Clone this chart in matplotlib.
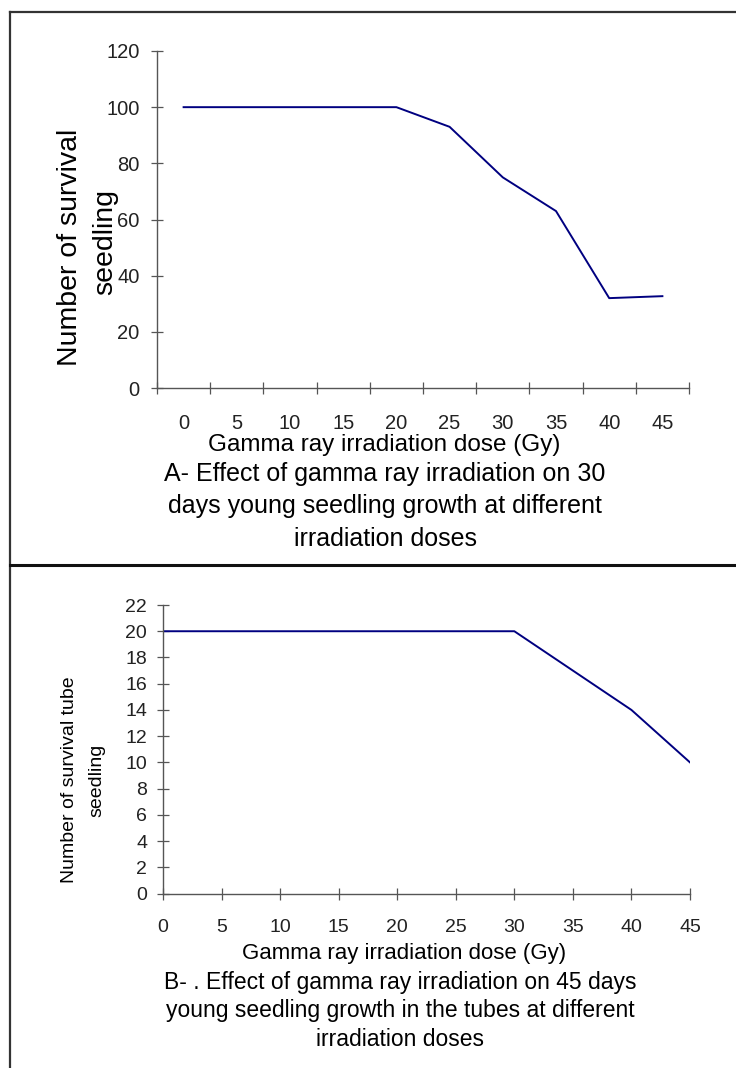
import matplotlib
matplotlib.use("Agg")
from matplotlib import pyplot as plt
from matplotlib.lines import Line2D

plt.rcParams['font.family'] = ['Liberation Sans', 'DejaVu Sans']

# seedlings after 30 days (panel A)
dose_a = [0, 5, 10, 15, 20, 25, 30, 35, 40, 45]
survival_a = [100, 100, 100, 100, 100, 93, 75, 63, 32, 32.7]
yticks_a = [0, 20, 40, 60, 80, 100, 120]

# tube seedlings after 45 days (panel B)
dose_b = [0, 5, 10, 15, 20, 25, 30, 35, 40, 45]
survival_b = [20, 20, 20, 20, 20, 20, 20, 17, 14, 10]
yticks_b = [0, 2, 4, 6, 8, 10, 12, 14, 16, 18, 20, 22]

W, H = 736, 1068
fig = plt.figure(figsize=(W / 100, H / 100), dpi=100)

def fx(px):
    return px / W

def fy(py):
    return 1 - py / H

# frame around the two panels
fig.add_artist(Line2D([fx(10), fx(10)], [fy(12), 0], color="#333333", lw=1.6, transform=fig.transFigure))
fig.add_artist(Line2D([fx(10), 1], [fy(12), fy(12)], color="#333333", lw=1.6, transform=fig.transFigure))
fig.add_artist(Line2D([fx(10), 1], [fy(565), fy(565)], color="#111111", lw=2.2, transform=fig.transFigure))

navy = "#000080"
axcol = "#555555"

def style(ax):
    for s in ["top", "right"]:
        ax.spines[s].set_visible(False)
    for s in ["left", "bottom"]:
        ax.spines[s].set_color(axcol)
        ax.spines[s].set_linewidth(1.0)
    ax.tick_params(which="major", direction="inout", length=9, width=0.9, color=axcol,
                   labelsize=14.5, labelcolor="#222222")

# ---- panel A: category style axis, points between ticks
axA = fig.add_axes([fx(157), fy(388), fx(689) - fx(157), fy(51) - fy(388)])
axA.plot(dose_a, survival_a, color=navy, lw=1.4)
axA.set_xlim(-2.5, 47.5)
axA.set_ylim(0, 120)
axA.set_yticks(yticks_a)
axA.set_xticks([d - 2.5 for d in dose_a] + [47.5])
axA.set_xticklabels([])
axA.set_xticks(dose_a, minor=True)
axA.set_xticklabels([str(d) for d in dose_a], minor=True)
style(axA)
axA.tick_params(axis="y", pad=8)
axA.tick_params(axis="x", which="minor", length=0, pad=19, labelsize=14.5, labelcolor="#222222")

fig.text(fx(70), fy(247), "Number of survival", rotation=90, ha="center", va="center", fontsize=20.5)
fig.text(fx(105), fy(242), "seedling", rotation=90, ha="center", va="center", fontsize=20.5)
fig.text(fx(384), fy(445), "Gamma ray irradiation dose (Gy)", ha="center", va="center", fontsize=17.5)
capA = ["A- Effect of gamma ray irradiation on 30",
        "days young seedling growth at different",
        "irradiation doses"]
for i, line in enumerate(capA):
    fig.text(fx(385), fy(474 + 32.5 * i), line, ha="center", va="center", fontsize=18)

# ---- panel B: value axis, points on ticks
axB = fig.add_axes([fx(163), fy(893.6), fx(690) - fx(163), fy(605) - fy(893.6)])
axB.plot(dose_b, survival_b, color=navy, lw=1.4)
axB.set_xlim(0, 45)
axB.set_ylim(0, 22)
axB.set_yticks(yticks_b)
axB.set_xticks(dose_b)
style(axB)
axB.tick_params(axis="y", pad=7, labelsize=14)
axB.tick_params(axis="x", pad=14, labelsize=14)

fig.text(fx(70), fy(780), "Number of survival tube", rotation=90, ha="center", va="center", fontsize=14)
fig.text(fx(97), fy(780), "seedling", rotation=90, ha="center", va="center", fontsize=14)
fig.text(fx(404), fy(954), "Gamma ray irradiation dose (Gy)", ha="center", va="center", fontsize=16)
capB = ["B- . Effect of gamma ray irradiation on 45 days",
        "young seedling growth in the tubes at different",
        "irradiation doses"]
for i, line in enumerate(capB):
    fig.text(fx(400), fy(982 + 28.5 * i), line, ha="center", va="center", fontsize=16.5)

fig.savefig("out.png", dpi=100)
